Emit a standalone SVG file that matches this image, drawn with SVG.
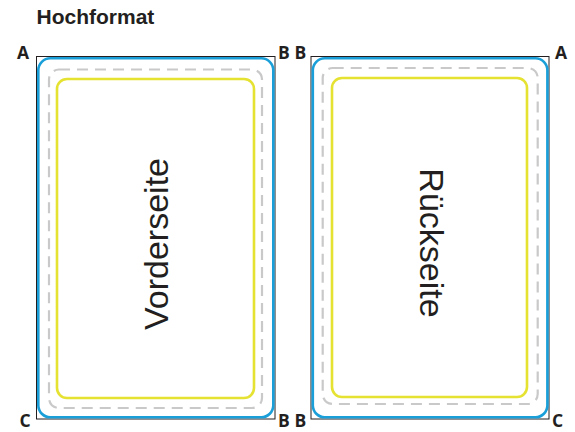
<svg xmlns="http://www.w3.org/2000/svg" width="575" height="432" viewBox="0 0 575 432">
<style>
.trim{fill:none;stroke:#231f20;stroke-width:1}
.bleed{fill:none;stroke:#1a9fd9;stroke-width:2.6}
.cut{fill:none;stroke:#c9c9c9;stroke-width:2.2;stroke-dasharray:11 7}
.safe{fill:none;stroke:#e5e232;stroke-width:2.6}
.lbl{font-family:"Open Sans","Liberation Sans",sans-serif;font-weight:700;font-size:17.5px;fill:#231f20}
.title{font-family:"Liberation Sans",Arial,sans-serif;font-weight:700;font-size:21px;fill:#231f20}
.side{font-family:"Liberation Sans",Arial,sans-serif;font-size:34px;fill:#231f20;text-anchor:middle}
</style>
<rect width="575" height="432" fill="#ffffff"/>
<text class="title" x="36.5" y="24">Hochformat</text>
<g id="front">
<rect class="trim" x="36.5" y="56.5" width="238.5" height="362.5"/>
<rect class="bleed" x="38.3" y="58.3" width="235" height="359" rx="12"/>
<rect class="cut" x="49" y="69.5" width="213" height="338.5" rx="10"/>
<rect class="safe" x="57" y="79" width="197" height="319" rx="10"/>
<text class="side" transform="translate(168,244) rotate(-90)">Vorderseite</text>
<text class="lbl" x="17" y="59">A</text>
<text class="lbl" x="278" y="59">B</text>
<text class="lbl" x="19.5" y="427">C</text>
<text class="lbl" x="278" y="427">B</text>
</g>
<g id="back">
<rect class="trim" x="311" y="56.5" width="238" height="362.5"/>
<rect class="bleed" x="312.8" y="58.3" width="234.6" height="359" rx="12"/>
<rect class="cut" x="322.7" y="68" width="215" height="336" rx="10"/>
<rect class="safe" x="332" y="78" width="195" height="319" rx="10"/>
<text class="side" transform="translate(420,243) rotate(90)">Rückseite</text>
<text class="lbl" x="294.5" y="59">B</text>
<text class="lbl" x="555" y="59">A</text>
<text class="lbl" x="294.5" y="427">B</text>
<text class="lbl" x="552" y="427">C</text>
</g>
<g id="connectors"></g>
</svg>
